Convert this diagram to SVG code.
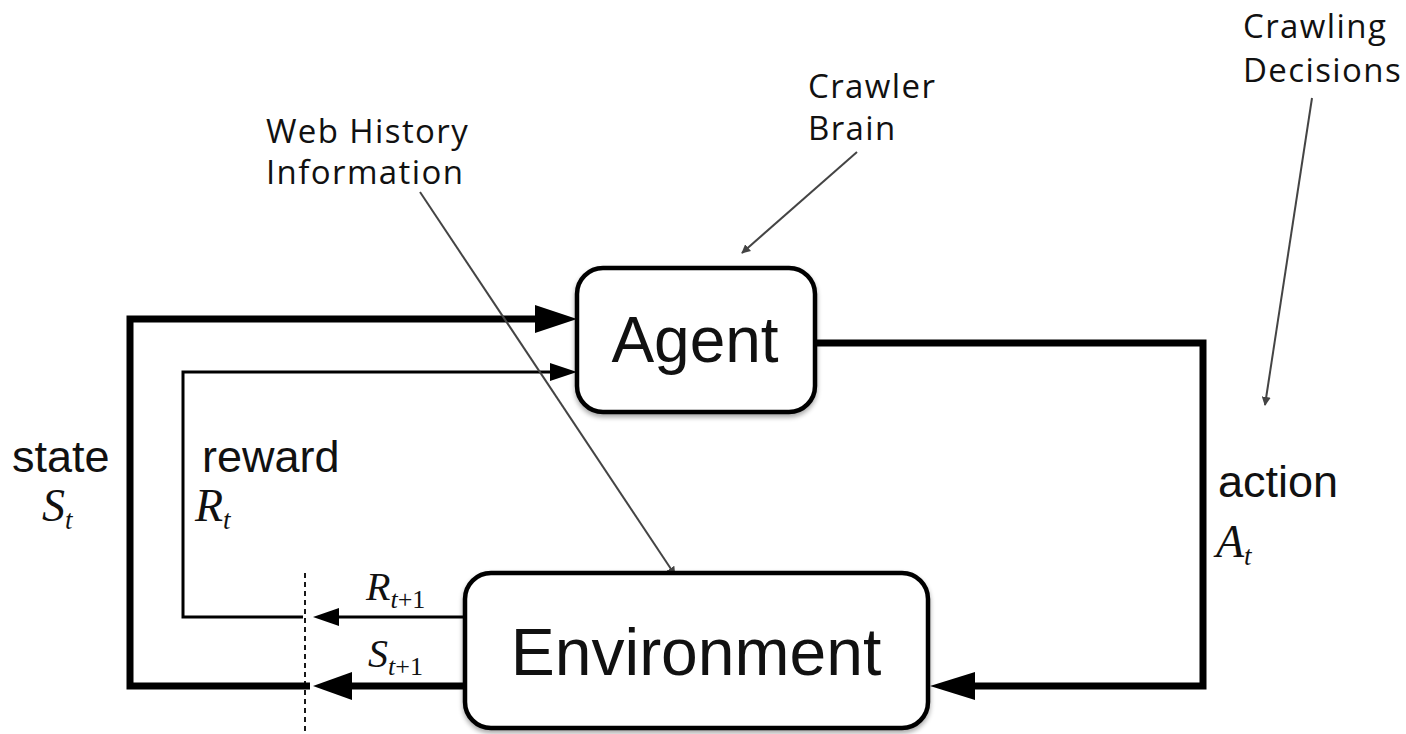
<svg xmlns="http://www.w3.org/2000/svg" width="1406" height="734" viewBox="0 0 1406 734">
  <defs>
    <style>
      .box { fill: #ffffff; stroke: #000000; stroke-width: 4.5; }
      .label { font-family: "Liberation Sans", Arial, sans-serif; fill: #111111; }
      .math { font-family: "Liberation Serif", "Times New Roman", serif; font-style: italic; fill: #111111; }
      .note { font-family: "Open Sans", "Noto Sans", sans-serif; font-size: 33px; letter-spacing: 1.4px; fill: #111111; }
      .thick { stroke: #000000; stroke-width: 7; fill: none; }
      .thin { stroke: #000000; stroke-width: 3; fill: none; }
      .ann { stroke: #444444; stroke-width: 2; fill: none; marker-end: url(#annArrow); }
    </style>
    <marker id="annArrow" viewBox="0 0 10 10" refX="9" refY="5" markerWidth="9" markerHeight="9" markerUnits="userSpaceOnUse" orient="auto">
      <path d="M0,0 L10,5 L0,10 z" fill="#444444"/>
    </marker>
    <filter id="shadow" x="-10%" y="-10%" width="120%" height="125%">
      <feGaussianBlur in="SourceAlpha" stdDeviation="2.5"/>
      <feOffset dx="0" dy="3" result="b"/>
      <feComponentTransfer><feFuncA type="linear" slope="0.35"/></feComponentTransfer>
      <feMerge><feMergeNode/><feMergeNode in="SourceGraphic"/></feMerge>
    </filter>
  </defs>

  <rect width="1406" height="734" fill="#ffffff"/>

  <g id="connectors">
    <!-- state loop -->
    <polyline class="thick" points="310,686 130,686 130,319 540,319"/>
    <polygon points="577,319 535,305 535,333" fill="#000"/>
    <!-- reward loop -->
    <polyline class="thin" points="303,617 183,617 183,372 552,372"/>
    <polygon points="577,372 550,363 550,381" fill="#000"/>
    <!-- R t+1 -->
    <line class="thin" x1="465" y1="617" x2="335" y2="617"/>
    <polygon points="313,617 339,608 339,626" fill="#000"/>
    <!-- S t+1 -->
    <line class="thick" x1="465" y1="686" x2="348" y2="686"/>
    <polygon points="313,686 352,672 352,700" fill="#000"/>
    <!-- dashed divider -->
    <line x1="305" y1="573" x2="305" y2="734" stroke="#000" stroke-width="1.8" stroke-dasharray="5,4"/>
    <!-- action -->
    <polyline class="thick" points="815,343 1203,343 1203,686 970,686"/>
    <polygon points="930,686 975,672 975,700" fill="#000"/>
    <!-- annotation arrows -->
    <line class="ann" x1="857" y1="152" x2="742" y2="253"/>
    <line class="ann" x1="420" y1="192" x2="675" y2="575"/>
    <line class="ann" x1="1312" y1="98" x2="1265" y2="405"/>
  </g>

  <g id="agent">
    <rect class="box" x="577" y="268" width="238" height="144" rx="26" ry="26" filter="url(#shadow)"/>
    <text class="label" x="695" y="362" font-size="64" text-anchor="middle">Agent</text>
  </g>

  <g id="environment">
    <rect class="box" x="465" y="573" width="463" height="155" rx="26" ry="26" filter="url(#shadow)"/>
    <text class="label" x="696" y="675" font-size="66" text-anchor="middle">Environment</text>
  </g>

  <g id="state-label">
    <text class="label" x="12" y="472" font-size="45">state</text>
    <text class="math" x="42" y="521" font-size="46">S<tspan font-size="27" dy="8">t</tspan></text>
  </g>

  <g id="reward-label">
    <text class="label" x="202" y="472" font-size="45">reward</text>
    <text class="math" x="195" y="521" font-size="46">R<tspan font-size="27" dy="8">t</tspan></text>
  </g>

  <g id="action-label">
    <text class="label" x="1218" y="497" font-size="45">action</text>
    <text class="math" x="1216" y="557" font-size="46">A<tspan font-size="27" dy="8">t</tspan></text>
  </g>

  <g id="r-next-label">
    <text class="math" x="366" y="600" font-size="40">R<tspan font-size="26" dy="8">t</tspan><tspan font-size="26" font-style="normal">+1</tspan></text>
  </g>

  <g id="s-next-label">
    <text class="math" x="368" y="667" font-size="40">S<tspan font-size="26" dy="8">t</tspan><tspan font-size="26" font-style="normal">+1</tspan></text>
  </g>

  <g id="web-history-note">
    <text class="note" x="266" y="143">Web History</text>
    <text class="note" x="266" y="184">Information</text>
  </g>

  <g id="crawler-brain-note">
    <text class="note" x="808" y="98">Crawler</text>
    <text class="note" x="808" y="140">Brain</text>
  </g>

  <g id="crawling-decisions-note">
    <text class="note" x="1243" y="38">Crawling</text>
    <text class="note" x="1243" y="82">Decisions</text>
  </g>
</svg>
